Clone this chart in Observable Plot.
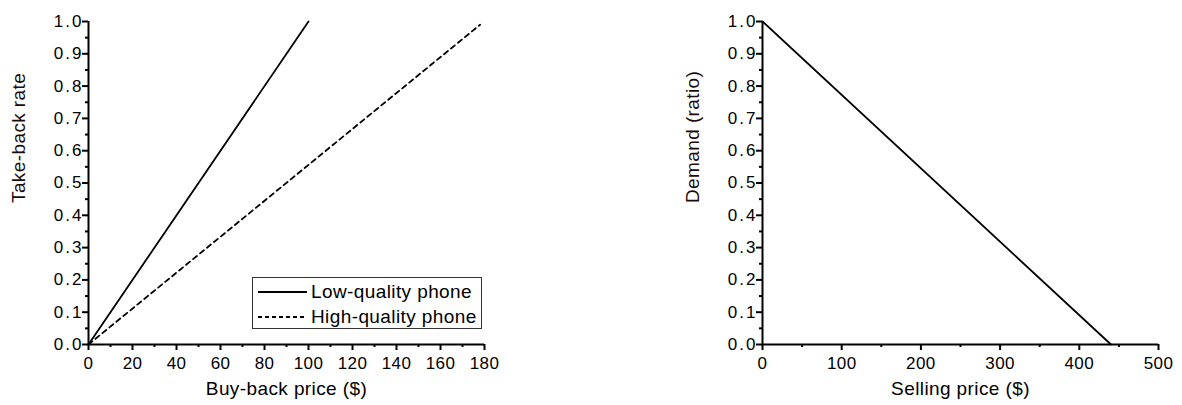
<!DOCTYPE html>
<html>
<head>
<meta charset="utf-8">
<script src="https://cdn.jsdelivr.net/npm/d3@7"></script>
<script src="https://cdn.jsdelivr.net/npm/@observablehq/plot@0.6"></script>
<style>
  body { margin: 0; background: #fff; }
  #wrap { position: relative; width: 1182px; height: 405px; overflow: hidden; background: #fff; font-family: "Liberation Sans", Arial, sans-serif; }
  #left { position: absolute; left: 0; top: 0; }
  #right { position: absolute; left: 590px; top: 0; }
  #legend { position: absolute; left: 252px; top: 277px; width: 230px; height: 52px; border: 1px solid #333; background: #fff; box-sizing: border-box; }
  #legend .row { position: absolute; left: 0; height: 24px; display: flex; align-items: center; font-size: 19px; letter-spacing: 0.4px; color: #000; }
  #legend svg { display: block; }
</style>
</head>
<body>
<div id="wrap">
  <div id="left"></div>
  <div id="right"></div>
  <div id="legend"></div>
</div>
<script>
// ---- Data ----
const lowQualityPrice = [0, 100];
const lowQualityRate = [0.0, 1.0];
const highQualityPrice = [0, 178];
const highQualityRate = [0.0, 0.99];
const sellingPrice = [0, 440];
const demandRatio = [1.0, 0.0];

const seriesNames = ["Low-quality phone", "High-quality phone"];

const leftXTicks = [0, 20, 40, 60, 80, 100, 120, 140, 160, 180];
const leftXMinor = [10, 30, 50, 70, 90, 110, 130, 150, 170];
const yTicks = [0.0, 0.1, 0.2, 0.3, 0.4, 0.5, 0.6, 0.7, 0.8, 0.9, 1.0];
const yMinor = [0.05, 0.15, 0.25, 0.35, 0.45, 0.55, 0.65, 0.75, 0.85, 0.95];
const rightXTicks = [0, 100, 200, 300, 400, 500];
const rightXMinor = [50, 150, 250, 350, 450];

const leftXLabel = "Buy-back price ($)";
const leftYLabel = "Take-back rate";
const rightXLabel = "Selling price ($)";
const rightYLabel = "Demand (ratio)";

const lowData = lowQualityPrice.map((x, i) => ({x, y: lowQualityRate[i]}));
const highData = highQualityPrice.map((x, i) => ({x, y: highQualityRate[i]}));
const demandData = sellingPrice.map((x, i) => ({x, y: demandRatio[i]}));

const font = "'Liberation Sans', Arial, sans-serif";
const common = {
  height: 405,
  marginTop: 21,
  marginBottom: 61,
  style: {fontFamily: font, fontSize: "17px", color: "#000", background: "transparent", overflow: "visible"}
};

function axesMarks(xTicks, xMinor, xLabel, yLabel) {
  return [
    Plot.axisX(xMinor, {tickSize: 3, text: null, strokeWidth: 2, label: null}),
    Plot.axisX(xTicks, {tickSize: 6, tickPadding: 6, strokeWidth: 2, label: null, fontSize: 17, className: "xt"}),
    Plot.axisY(yMinor, {tickSize: 3, text: null, strokeWidth: 2, label: null}),
    Plot.axisY(yTicks, {tickSize: 6, tickPadding: -1, strokeWidth: 2, tickFormat: d3.format(".1f"), label: null, fontSize: 17, className: "yt"}),
    Plot.ruleY([0], {strokeWidth: 2, stroke: "#000"}),
    Plot.ruleX([0], {strokeWidth: 2, stroke: "#000"}),
    Plot.text([xLabel], {frameAnchor: "bottom", dy: 50, fontSize: 19, fill: "#000"}),
    Plot.text([yLabel], {frameAnchor: "left", rotate: -90, dx: -70, dy: 20, fontSize: 19, fill: "#1a0a0a"})
  ];
}

function styleText(svg) {
  svg.querySelectorAll("text").forEach(t => t.style.letterSpacing = "0.4px");
  svg.querySelectorAll(".yt text").forEach(t => t.style.letterSpacing = "2px");
}

const left = Plot.plot({
  ...common,
  width: 500,
  marginLeft: 88,
  marginRight: 16,
  x: {domain: [0, 180]},
  y: {domain: [0, 1]},
  marks: [
    ...axesMarks(leftXTicks, leftXMinor, leftXLabel, leftYLabel),
    Plot.line(lowData, {x: "x", y: "y", stroke: "#000", strokeWidth: 1.8}),
    Plot.line(highData, {x: "x", y: "y", stroke: "#000", strokeWidth: 1.8, strokeDasharray: "5,4"})
  ]
});
styleText(left);
document.getElementById("left").appendChild(left);

const right = Plot.plot({
  ...common,
  width: 592,
  marginLeft: 172,
  marginRight: 24,
  x: {domain: [0, 500]},
  y: {domain: [0, 1]},
  marks: [
    ...axesMarks(rightXTicks, rightXMinor, rightXLabel, rightYLabel),
    Plot.line(demandData, {x: "x", y: "y", stroke: "#000", strokeWidth: 1.8})
  ]
});
styleText(right);
document.getElementById("right").appendChild(right);

// ---- Legend ----
const legend = document.getElementById("legend");
const dashes = [null, "4,3"];
seriesNames.forEach((name, i) => {
  const row = document.createElement("div");
  row.className = "row";
  row.style.top = (2 + i * 25) + "px";
  row.innerHTML = `<svg width="58" height="24"><line x1="5" x2="54" y1="12" y2="12" stroke="#000" stroke-width="1.8" ${dashes[i] ? `stroke-dasharray="${dashes[i]}"` : ""}/></svg><span>${name}</span>`;
  legend.appendChild(row);
});
</script>
</body>
</html>
